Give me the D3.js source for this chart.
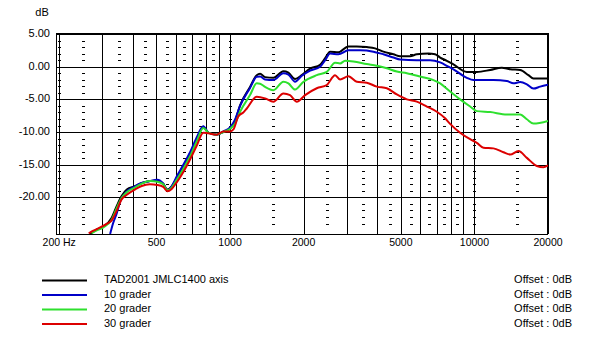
<!DOCTYPE html>
<html>
<head>
<meta charset="utf-8">
<script src="https://cdn.jsdelivr.net/npm/d3@7"></script>
<style>
  body { margin: 0; background: #fff; }
  text { font-family: Arial, "Liberation Sans", sans-serif; fill: #000; }
</style>
</head>
<body>
<script>
// frequency response, [Hz, dB]
const axisResp = [[268,-25.6],[285,-24.9],[303,-24.5],[328,-23.1],[344,-21.3],[360,-19.8],[378,-18.8],[408,-18.3],[435,-17.8],[470,-17.5],[504,-17.4],[533,-17.9],[554,-18.8],[577,-18.3],[605,-17.0],[644,-15.2],[686,-13.4],[731,-11.1],[777,-9.2],[815,-10.1],[882,-10.4],[939,-10.0],[1000,-9.5],[1048,-8.3],[1099,-5.9],[1207,-3.1],[1286,-1.3],[1327,-1.1],[1391,-1.6],[1504,-1.7],[1653,-0.7],[1733,-0.9],[1845,-1.9],[1966,-1.3],[2126,-0.3],[2336,0.3],[2450,1.3],[2567,2.3],[2776,2.2],[3050,3.1],[3301,3.1],[3627,3.0],[3923,2.8],[4242,2.3],[4661,1.9],[4966,1.6],[5456,1.6],[5810,1.9],[6483,2.0],[6905,1.9],[7240,1.4],[7710,0.9],[8204,0.35],[9309,-0.8],[10228,-0.8],[11596,-0.5],[12946,-0.15],[14000,-0.4],[15386,-0.5],[16634,-1.3],[17437,-1.8],[20000,-1.8]]
const deg10 = [[323,-25.6],[332,-24.0],[344,-22.4],[355,-20.6],[378,-19.1],[408,-18.3],[435,-17.8],[470,-17.5],[504,-17.3],[533,-17.9],[554,-18.9],[577,-18.3],[605,-16.8],[644,-15.0],[686,-13.1],[731,-10.8],[777,-9.1],[815,-10.1],[882,-10.4],[939,-9.9],[1000,-9.3],[1048,-8.1],[1099,-6.0],[1207,-3.25],[1286,-1.55],[1327,-1.5],[1391,-1.95],[1504,-2.05],[1653,-1.0],[1733,-1.2],[1845,-2.3],[1966,-1.4],[2126,-0.6],[2336,0.0],[2450,1.0],[2567,2.0],[2776,1.9],[3050,2.5],[3405,2.5],[3860,2.3],[4242,1.9],[4661,1.4],[4966,1.1],[5810,1.0],[6588,1.0],[7240,0.65],[7827,0.0],[8204,-0.4],[9309,-1.7],[9906,-2.05],[11963,-2.05],[13571,-2.2],[14442,-2.55],[15386,-2.35],[16389,-2.7],[17437,-3.35],[18573,-3.05],[20000,-2.75]]
const deg20 = [[271,-25.5],[285,-25.05],[303,-24.6],[328,-23.4],[344,-21.6],[360,-20.1],[378,-19.2],[408,-18.5],[435,-17.9],[470,-17.5],[504,-17.6],[533,-18.0],[554,-18.9],[577,-18.5],[605,-17.3],[644,-15.6],[686,-13.7],[731,-11.4],[777,-9.4],[815,-10.1],[882,-10.4],[939,-10.0],[1000,-9.5],[1048,-8.7],[1099,-6.9],[1207,-4.35],[1286,-2.55],[1327,-2.6],[1391,-3.1],[1504,-3.6],[1653,-2.3],[1733,-2.55],[1845,-3.5],[1998,-2.3],[2264,-1.3],[2488,-0.8],[2691,0.6],[2820,0.5],[2956,0.9],[3196,0.8],[3627,0.4],[3986,0.15],[4380,-0.25],[4813,-0.75],[5289,-1.0],[5995,-1.5],[6797,-2.05],[7240,-2.55],[7953,-3.8],[8738,-5.0],[9603,-6.1],[10228,-6.8],[11596,-6.95],[13571,-7.3],[15386,-7.3],[16389,-8.05],[17437,-8.7],[20000,-8.3]]
const deg30 = [[264,-25.5],[276,-25.1],[294,-24.6],[314,-24.0],[328,-23.5],[344,-22.0],[360,-20.3],[378,-19.6],[408,-18.8],[435,-18.25],[470,-18.0],[504,-18.1],[533,-18.4],[554,-19.05],[577,-18.7],[605,-17.7],[644,-16.1],[686,-14.2],[731,-12.05],[777,-10.1],[815,-10.2],[882,-10.4],[939,-9.9],[1000,-9.9],[1032,-9.6],[1081,-7.6],[1133,-7.0],[1171,-6.4],[1286,-4.6],[1391,-4.85],[1504,-5.35],[1653,-4.1],[1760,-4.35],[1876,-5.35],[2028,-4.35],[2264,-3.3],[2488,-2.8],[2691,-1.3],[2820,-1.95],[3050,-1.45],[3301,-2.3],[3627,-2.45],[3986,-3.05],[4380,-3.3],[4813,-4.25],[5289,-5.0],[5810,-5.35],[6387,-6.1],[7017,-6.9],[7588,-7.9],[7953,-8.75],[8738,-10.1],[9603,-11.1],[10228,-11.65],[10887,-12.4],[11963,-12.5],[13143,-13.1],[14000,-13.45],[15141,-12.9],[16389,-13.95],[18005,-15.2],[19160,-15.4],[20000,-15.1]]

const seriesNames = ['TAD2001 JMLC1400 axis', '10 grader', '20 grader', '30 grader']
const seriesColors = ['#000000', '#0000c8', '#2ee02e', '#dc0000']
const offsets = ['Offset : 0dB', 'Offset : 0dB', 'Offset : 0dB', 'Offset : 0dB']

const xTickVals = [200, 500, 1000, 2000, 5000, 10000, 20000]
const xTickText = ['200 Hz', '500', '1000', '2000', '5000', '10000', '20000']
const yTickVals = [5, 0, -5, -10, -15, -20]

const W = 602, H = 363
const plot = {left: 56, right: 548, top: 34, bottom: 234}

const svg = d3.select('body').append('svg')
  .attr('width', W).attr('height', H)

const x = d3.scaleLog().domain([194, 20000]).range([plot.left, plot.right])
const y = d3.scaleLinear().domain([-25.6, 5]).range([plot.bottom, plot.top])

// grid: solid lines at 100s and 1000s, dotted columns between
const solidF = d3.range(200, 1001, 100).concat(d3.range(2000, 10001, 1000))
const dotF = [200].concat(d3.range(250, 900, 100), [1000], d3.range(1500, 9000, 1000), [10000, 15000])
const dbSteps = d3.range(4, -26, -1).filter(d => d % 5 !== 0)

const grid = svg.append('g').attr('shape-rendering', 'crispEdges')

grid.selectAll('line.v').data(solidF).join('line')
  .attr('class', 'v')
  .attr('x1', d => Math.round(x(d)) + 0.5).attr('x2', d => Math.round(x(d)) + 0.5)
  .attr('y1', plot.top).attr('y2', plot.bottom)
  .attr('stroke', '#000').attr('stroke-width', 1)

grid.selectAll('line.h').data(yTickVals.slice(1)).join('line')
  .attr('class', 'h')
  .attr('x1', plot.left).attr('x2', plot.right)
  .attr('y1', d => Math.round(y(d)) + 0.5).attr('y2', d => Math.round(y(d)) + 0.5)
  .attr('stroke', '#000').attr('stroke-width', 1)

const dotCols = grid.selectAll('g.dots').data(dotF).join('g')
  .attr('class', 'dots')
  .attr('transform', d => `translate(${Math.round(x(d))},0)`)
dotCols.selectAll('rect').data(dbSteps).join('rect')
  .attr('x', -1).attr('width', 3)
  .attr('y', d => Math.round(y(d))).attr('height', 1)
  .attr('fill', '#000')

// frame
grid.append('line').attr('x1', plot.left).attr('x2', plot.right + 1).attr('y1', plot.top).attr('y2', plot.top)
  .attr('stroke', '#000').attr('stroke-width', 2)
grid.append('line').attr('x1', plot.right).attr('x2', plot.right).attr('y1', plot.top).attr('y2', plot.bottom)
  .attr('stroke', '#000').attr('stroke-width', 2)
grid.append('line').attr('x1', plot.left + 0.5).attr('x2', plot.left + 0.5).attr('y1', plot.top).attr('y2', plot.bottom)
  .attr('stroke', '#000').attr('stroke-width', 1)
grid.append('line').attr('x1', plot.left).attr('x2', plot.right).attr('y1', plot.bottom + 0.5).attr('y2', plot.bottom + 0.5)
  .attr('stroke', '#000').attr('stroke-width', 1)

// curves
svg.append('clipPath').attr('id', 'clip').append('rect')
  .attr('x', plot.left).attr('y', plot.top)
  .attr('width', plot.right - plot.left).attr('height', plot.bottom - plot.top)

const line = d3.line().x(d => x(d[0])).y(d => y(d[1])).curve(d3.curveMonotoneX)
const allSeries = [axisResp, deg10, deg20, deg30]

svg.append('g').attr('clip-path', 'url(#clip)')
  .selectAll('path').data(allSeries).join('path')
  .attr('d', line)
  .attr('fill', 'none')
  .attr('stroke', (d, i) => seriesColors[i])
  .attr('stroke-width', 2)
  .attr('stroke-linejoin', 'round')

// axis labels
svg.append('text').attr('x', 42).attr('y', 13).attr('text-anchor', 'middle')
  .attr('dominant-baseline', 'middle').style('font-size', '11px').text('dB')

svg.selectAll('text.ylab').data(yTickVals).join('text')
  .attr('class', 'ylab')
  .attr('x', 50).attr('y', d => y(d))
  .attr('text-anchor', 'end').attr('dominant-baseline', 'middle')
  .style('font-size', '11px')
  .text(d => d.toFixed(2))

svg.selectAll('text.xlab').data(xTickVals).join('text')
  .attr('class', 'xlab')
  .attr('x', d => x(d)).attr('y', 243.5)
  .attr('text-anchor', 'middle').attr('dominant-baseline', 'middle')
  .style('font-size', '10.5px')
  .text((d, i) => xTickText[i])

// legend
const leg = svg.selectAll('g.leg').data(seriesNames).join('g')
  .attr('class', 'leg')
  .attr('transform', (d, i) => `translate(0,${280.5 + i * 14.5})`)
leg.append('line').attr('x1', 42).attr('x2', 87).attr('y1', 0).attr('y2', 0)
  .attr('stroke', (d, i) => seriesColors[i]).attr('stroke-width', 2)
leg.append('text').attr('x', 104).attr('y', 0).attr('dominant-baseline', 'middle')
  .style('font-size', '11px').text(d => d)
leg.append('text').attr('x', 572).attr('y', 0).attr('text-anchor', 'end')
  .attr('dominant-baseline', 'middle')
  .style('font-size', '11px').text((d, i) => offsets[i])
</script>
</body>
</html>
